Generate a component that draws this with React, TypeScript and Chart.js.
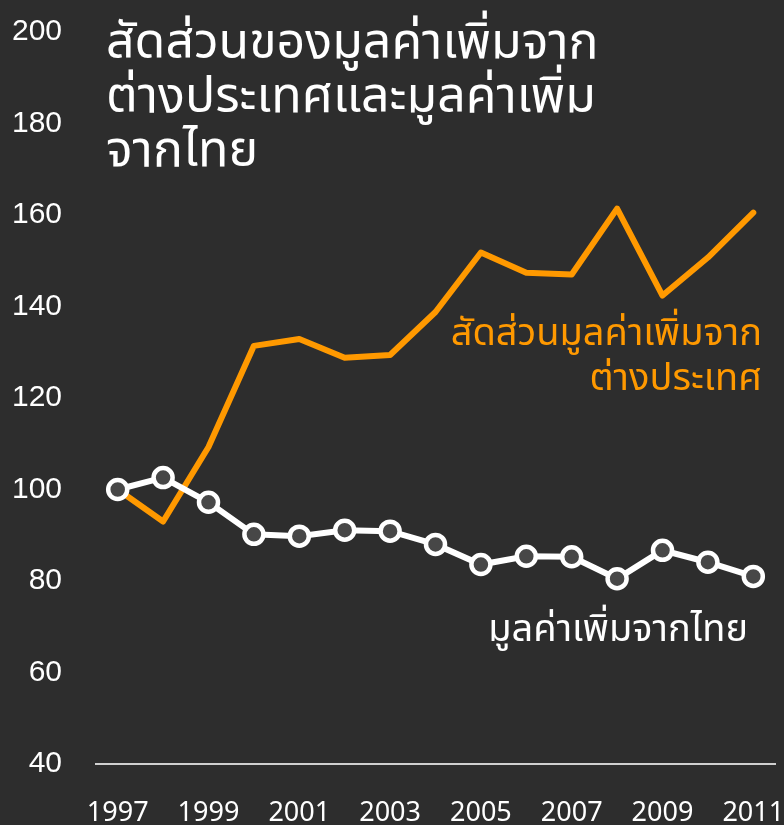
import React, { useEffect, useRef } from "react";
import { Chart, registerables } from "chart.js";

Chart.register(...registerables);

const years = [1997, 1998, 1999, 2000, 2001, 2002, 2003, 2004, 2005, 2006, 2007, 2008, 2009, 2010, 2011];
const foreignShare = [100, 93.0, 109.3, 131.4, 132.9, 128.8, 129.4, 138.8, 151.8, 147.4, 147.0, 161.4, 142.4, 150.7, 160.5];
const thaiValue = [100, 102.6, 97.2, 90.2, 89.8, 91.1, 90.9, 88.0, 83.6, 85.4, 85.3, 80.5, 86.7, 84.1, 81.0];
const yTicks = [40, 60, 80, 100, 120, 140, 160, 180, 200];
const xTicks = [1997, 1999, 2001, 2003, 2005, 2007, 2009, 2011];

const titleLines = ["สัดส่วนของมูลค่าเพิ่มจาก", "ต่างประเทศและมูลค่าเพิ่ม", "จากไทย"];
const foreignLabel = ["สัดส่วนมูลค่าเพิ่มจาก", "ต่างประเทศ"];
const thaiLabel = ["มูลค่าเพิ่มจากไทย"];

const BG = "#2d2d2d";
const ORANGE = "#ff9900";
const WHITE = "#ffffff";
const THAI_FONT = "'Noto Sans', 'Noto Sans Thai', sans-serif";

const textPlugin = {
  id: "textOverlay",
  afterDatasetsDraw(chart: any) {
    const ctx = chart.ctx;
    ctx.save();
    ctx.textBaseline = "middle";
    ctx.fillStyle = WHITE;
    ctx.textAlign = "left";
    ctx.font = `50px ${THAI_FONT}`;
    titleLines.forEach((t, i) => ctx.fillText(t, 106, 44 + i * 54));

    ctx.textAlign = "right";
    ctx.fillStyle = ORANGE;
    ctx.font = `38px ${THAI_FONT}`;
    foreignLabel.forEach((t, i) => ctx.fillText(t, 762, 334 + i * 45));

    ctx.fillStyle = WHITE;
    thaiLabel.forEach((t, i) => ctx.fillText(t, 748, 630 + i * 45));
    ctx.restore();
  },
};

export default function App() {
  const ref = useRef<HTMLCanvasElement>(null);
  useEffect(() => {
    if (!ref.current) return;
    const chart = new Chart(ref.current, {
      type: "line",
      data: {
        datasets: [
          {
            label: "thai",
            data: years.map((y, i) => ({ x: y, y: thaiValue[i] })),
            borderColor: WHITE,
            borderWidth: 6,
            pointRadius: 9.5,
            pointBorderWidth: 4.5,
            pointBackgroundColor: "#474747",
            pointBorderColor: WHITE,
            tension: 0,
            clip: false,
          },
          {
            label: "foreign",
            data: years.map((y, i) => ({ x: y, y: foreignShare[i] })),
            borderColor: ORANGE,
            borderWidth: 6,
            pointRadius: 0,
            tension: 0,
            borderJoinStyle: "round",
            borderCapStyle: "round",
            clip: false,
          },
        ],
      },
      options: {
        animation: false,
        responsive: false,
        maintainAspectRatio: false,
        layout: { autoPadding: false, padding: { left: 0, right: 8, top: 32, bottom: 0 } },
        plugins: { legend: { display: false }, title: { display: false }, tooltip: { enabled: false } },
        scales: {
          x: {
            type: "linear",
            min: 1996.5,
            max: 2011.5,
            afterBuildTicks: (s: any) => {
              s.ticks = xTicks.map((v) => ({ value: v }));
            },
            afterFit: (s: any) => {
              s.height = 61;
              s.paddingLeft = 0;
              s.paddingRight = 0;
            },
            grid: { display: false, drawTicks: false },
            border: { display: false },
            ticks: {
              color: WHITE,
              font: { family: THAI_FONT, size: 27 },
              padding: 33,
              maxRotation: 0,
              autoSkip: false,
              callback: (v: any) => String(v),
            },
          },
          y: {
            min: 40,
            max: 200,
            afterBuildTicks: (s: any) => {
              s.ticks = yTicks.map((v) => ({ value: v }));
            },
            afterFit: (s: any) => {
              s.width = 95;
              s.paddingTop = 0;
              s.paddingBottom = 0;
            },
            grid: {
              drawTicks: false,
              color: (c: any) => (c.tick && c.tick.value === 40 ? "#d0d0d0" : "rgba(0,0,0,0)"),
              lineWidth: 2,
            },
            border: { display: false },
            ticks: {
              color: WHITE,
              font: { family: "'Liberation Sans', Arial, sans-serif", size: 30 },
              padding: 33,
            },
          },
        },
      },
      plugins: [textPlugin],
    });
    return () => chart.destroy();
  }, []);
  return (
    <div style={{ position: "absolute", left: 0, top: 0, width: 784, height: 825, background: BG }}>
      <canvas ref={ref} width={784} height={825} style={{ display: "block", width: 784, height: 825 }} />
    </div>
  );
}
